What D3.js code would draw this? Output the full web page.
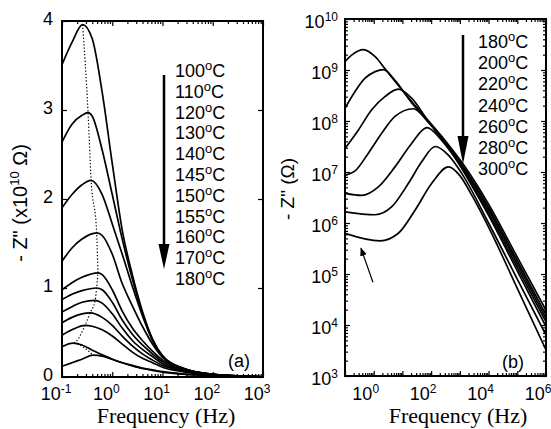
<!DOCTYPE html>
<html>
<head>
<meta charset="utf-8">
<script src="https://cdn.jsdelivr.net/npm/d3@7"></script>
<style>
  body { margin: 0; background: #fff; }
  text { font-family: "Liberation Sans", Arial, sans-serif; fill: #000; }
</style>
</head>
<body>
<svg id="chart" width="551" height="429"></svg>
<script>
// panel (a): -Z'' (x1e10 ohm) vs frequency (Hz), one list of [f, value] per temperature
const tempsA = ["100", "110", "120", "130", "140", "145", "150", "155", "160", "170", "180"];
const curvesA = [
    [[0.1, 3.51], [0.158, 3.76], [0.257, 3.96], [0.4, 3.80], [0.63, 3.20], [1, 2.40], [1.58, 1.65], [2.51, 1.15], [3.98, 0.74], [6.31, 0.43], [10, 0.24], [25, 0.10], [100, 0.03], [1000, 0.003]],
    [[0.1, 2.64], [0.158, 2.84], [0.25, 2.94], [0.33, 2.97], [0.4, 2.93], [0.63, 2.55], [1, 2.05], [1.58, 1.55], [2.51, 1.10], [3.98, 0.72], [6.31, 0.42], [10, 0.235], [25, 0.10], [100, 0.03], [1000, 0.003]],
    [[0.1, 1.90], [0.158, 2.05], [0.25, 2.16], [0.38, 2.21], [0.63, 2.05], [1, 1.72], [1.58, 1.38], [2.51, 1.02], [3.98, 0.69], [6.31, 0.41], [10, 0.23], [25, 0.10], [100, 0.03], [1000, 0.003]],
    [[0.1, 1.30], [0.158, 1.45], [0.25, 1.55], [0.49, 1.62], [0.63, 1.59], [1, 1.38], [1.58, 1.05], [2.51, 0.80], [3.98, 0.57], [6.31, 0.37], [10, 0.22], [25, 0.095], [100, 0.03], [1000, 0.003]],
    [[0.1, 0.98], [0.158, 1.06], [0.25, 1.12], [0.525, 1.17], [0.63, 1.15], [1, 0.98], [1.58, 0.74], [2.51, 0.55], [3.98, 0.41], [6.31, 0.29], [10, 0.19], [25, 0.09], [100, 0.03], [1000, 0.003]],
    [[0.1, 0.87], [0.158, 0.93], [0.25, 0.97], [0.49, 1.00], [0.63, 0.98], [1, 0.84], [1.58, 0.64], [2.51, 0.48], [3.98, 0.36], [6.31, 0.26], [10, 0.17], [25, 0.085], [100, 0.028], [1000, 0.003]],
    [[0.1, 0.73], [0.158, 0.79], [0.25, 0.84], [0.457, 0.86], [0.63, 0.83], [1, 0.71], [1.58, 0.55], [2.51, 0.41], [3.98, 0.31], [6.31, 0.23], [10, 0.15], [25, 0.08], [100, 0.027], [1000, 0.003]],
    [[0.1, 0.61], [0.158, 0.67], [0.25, 0.71], [0.363, 0.72], [0.63, 0.67], [1, 0.58], [1.58, 0.46], [2.51, 0.35], [3.98, 0.26], [6.31, 0.19], [10, 0.13], [25, 0.07], [100, 0.025], [1000, 0.003]],
    [[0.1, 0.47], [0.158, 0.53], [0.288, 0.58], [0.4, 0.57], [0.63, 0.53], [1, 0.46], [1.58, 0.37], [2.51, 0.28], [3.98, 0.21], [6.31, 0.16], [10, 0.11], [25, 0.06], [100, 0.022], [1000, 0.003]],
    [[0.1, 0.34], [0.166, 0.38], [0.25, 0.36], [0.4, 0.30], [0.63, 0.25], [1, 0.20], [1.58, 0.16], [2.51, 0.13], [3.98, 0.10], [6.31, 0.08], [10, 0.06], [25, 0.035], [100, 0.015], [1000, 0.002]],
    [[0.1, 0.12], [0.158, 0.16], [0.25, 0.20], [0.417, 0.245], [0.63, 0.235], [1, 0.20], [1.58, 0.16], [2.51, 0.125], [3.98, 0.095], [6.31, 0.075], [10, 0.055], [25, 0.033], [100, 0.014], [1000, 0.002]]
];
const yTicksA = [0, 1, 2, 3, 4];
const xExpA = [-1, 0, 1, 2, 3];

// panel (b): -Z'' (ohm) vs frequency (Hz), log-log
const tempsB = ["180", "200", "220", "240", "260", "280", "300"];
const curvesB = [
    [[0.1, 1.45e9], [0.17, 1.95e9], [0.44, 2.51e9], [1.12, 1.82e9], [2.45, 1.07e9], [5.5, 6.0e8], [20.9, 2.4e8], [79, 1.02e8], [316, 4.07e7], [1175, 1.55e7], [1e4, 2.34e6], [1e5, 2.14e5], [1e6, 1.95e4]],
    [[0.1, 1.78e8], [0.224, 3.8e8], [0.5, 6.9e8], [1.12, 9.3e8], [2.19, 1.02e9], [5.5, 6.3e8], [20.9, 2.29e8], [79, 9.8e7], [316, 3.9e7], [1175, 1.41e7], [1e4, 2.04e6], [1e5, 1.82e5], [1e6, 1.58e4]],
    [[0.1, 2.9e7], [0.29, 6.6e7], [0.85, 1.66e8], [2.45, 3.0e8], [7.2, 4.2e8], [20.9, 2.8e8], [79, 1.0e8], [316, 3.7e7], [1175, 1.32e7], [1e4, 1.82e6], [1e5, 1.58e5], [1e6, 1.35e4]],
    [[0.1, 8.7e6], [0.224, 1.05e7], [0.65, 2.34e7], [1.9, 5.75e7], [5.5, 1.23e8], [24, 1.74e8], [79, 9.5e7], [316, 3.55e7], [1175, 1.2e7], [1e4, 1.58e6], [1e5, 1.35e5], [1e6, 1.15e4]],
    [[0.1, 3.8e6], [0.38, 3.47e6], [1.45, 5.1e6], [5.5, 1.26e7], [20.9, 3.63e7], [71, 7.4e7], [234, 4.17e7], [676, 1.9e7], [3162, 4.47e6], [1e4, 1.41e6], [1e5, 1.15e5], [1e6, 9.3e3]],
    [[0.1, 1.66e6], [1.12, 1.45e6], [4.27, 2.09e6], [16.2, 6.0e6], [46.8, 1.58e7], [138, 3.16e7], [398, 2.14e7], [1175, 9.3e6], [1e4, 1.0e6], [1e5, 7.9e4], [1e6, 6.3e3]],
    [[0.1, 6.3e5], [1.66, 4.47e5], [7.2, 6.3e5], [27.5, 1.78e6], [105, 6.0e6], [398, 1.26e7], [1000, 8.5e6], [2570, 3.55e6], [1e4, 8.3e5], [1e5, 5.25e4], [1e6, 3.24e3]]
];
const yExpB = [3, 4, 5, 6, 7, 8, 9, 10];
const xExpB = [0, 2, 4, 6];
// the little arrow pointing at the low-frequency bump of the 300 C curve
const noteFromB = [0.94, 6.9e4];
const noteToB = [0.36, 3.2e5];

const serif = "'Liberation Serif', 'Times New Roman', serif";
const svg = d3.select("#chart");
svg.append("rect").attr("width", 551).attr("height", 429).attr("fill", "#fff");

const xA = d3.scaleLog().domain([0.1, 1000]).range([62, 263]);
const yA = d3.scaleLinear().domain([0, 4]).range([377, 21]);
const xB = d3.scaleLog().domain([0.1, 1e6]).range([345, 546]);
const yB = d3.scaleLog().domain([1e3, 1e10]).range([376, 19]);

const decades = (lo, hi) => d3.range(lo, hi + 1).map(e => Math.pow(10, e));
const minors = (lo, hi) => {
    const out = [];
    for (let e = lo; e < hi; e++) for (let m = 2; m <= 9; m++) out.push(m * Math.pow(10, e));
    return out;
};

// inward ticks on all four sides of a box
const ticks = (axisFn, scale, values, size, tx, ty) => {
    svg.append("g")
        .attr("transform", `translate(${tx},${ty})`)
        .call(axisFn(scale).tickValues(values).tickSize(-size).tickFormat(""))
        .call(g => g.select(".domain").remove())
        .selectAll("line")
        .attr("stroke", "#000")
        .attr("stroke-width", 1.2);
};

const frame = (x, y) => {
    const [x0, x1] = x.range();
    const [y0, y1] = y.range();
    svg.append("rect")
        .attr("x", x0).attr("y", y1)
        .attr("width", x1 - x0).attr("height", y0 - y1)
        .attr("fill", "none").attr("stroke", "#000").attr("stroke-width", 2);
};

const clip = (id, x, y) => {
    const [x0, x1] = x.range();
    const [y0, y1] = y.range();
    svg.append("clipPath").attr("id", id)
        .append("rect").attr("x", x0).attr("y", y1).attr("width", x1 - x0).attr("height", y0 - y1);
};

const powLabel = (sel, e) => {
    sel.append("tspan").text("10");
    sel.append("tspan").attr("dy", -7).style("font-size", "12px").text(e);
};

const degLabel = (sel, t) => {
    sel.append("tspan").text(t);
    sel.append("tspan").attr("dy", -7).style("font-size", "13px").text("o");
    sel.append("tspan").attr("dy", 7).text("C");
};

// ---- panel (a) ----
clip("clipA", xA, yA);
ticks(d3.axisBottom, xA, decades(-1, 3), 5, 0, 377);
ticks(d3.axisBottom, xA, minors(-1, 3), 3, 0, 377);
ticks(d3.axisTop, xA, decades(-1, 3), 5, 0, 21);
ticks(d3.axisTop, xA, minors(-1, 3), 3, 0, 21);
ticks(d3.axisLeft, yA, yTicksA, 5, 62, 0);
ticks(d3.axisRight, yA, yTicksA, 5, 263, 0);

const lineA = d3.line().x(d => xA(d[0])).y(d => yA(d[1])).curve(d3.curveMonotoneX);
const plotA = svg.append("g").attr("clip-path", "url(#clipA)");

plotA.append("path")
    .attr("d", lineA(curvesA.map(c => d3.greatest(c, d => d[1]))))
    .attr("fill", "none").attr("stroke", "#000")
    .attr("stroke-width", 1.2).attr("stroke-dasharray", "1.3 2");

plotA.selectAll("path.curve")
    .data(curvesA)
    .enter()
    .append("path")
    .attr("class", "curve")
    .attr("d", lineA)
    .attr("fill", "none").attr("stroke", "#000").attr("stroke-width", 1.7);

frame(xA, yA);

svg.selectAll("text.ya")
    .data(yTicksA)
    .enter()
    .append("text")
    .attr("class", "ya")
    .attr("x", 53).attr("y", d => yA(d) + 4)
    .attr("text-anchor", "end").style("font-size", "18px")
    .text(d => d);

svg.selectAll("text.xa")
    .data(xExpA)
    .enter()
    .append("text")
    .attr("class", "xa")
    .attr("x", d => xA(Math.pow(10, d)) - 6).attr("y", 400)
    .attr("text-anchor", "middle").style("font-size", "18px")
    .each(function (d) { powLabel(d3.select(this), d); });

svg.append("text")
    .attr("x", 166).attr("y", 423)
    .attr("text-anchor", "middle")
    .style("font-family", serif).style("font-size", "22px")
    .text("Frequency (Hz)");

const ylabA = svg.append("text")
    .attr("transform", "translate(27,203) rotate(-90)")
    .attr("text-anchor", "middle").style("font-size", "20px");
ylabA.append("tspan").text("- Z\" (x10");
ylabA.append("tspan").attr("dy", -8).style("font-size", "13px").text("10");
ylabA.append("tspan").attr("dy", 8).text(" Ω)");

const legA = svg.append("g");
tempsA.forEach((t, i) => {
    legA.append("text")
        .attr("x", 175).attr("y", 77 + i * 20.8)
        .style("font-size", "18px")
        .call(degLabel, t);
});
legA.append("line")
    .attr("x1", 164).attr("x2", 164).attr("y1", 75).attr("y2", 250)
    .attr("stroke", "#000").attr("stroke-width", 2.5);
legA.append("path")
    .attr("d", "M158.5,244 L169.5,244 L164,269 Z")
    .attr("fill", "#000");

svg.append("text")
    .attr("x", 228).attr("y", 367)
    .style("font-size", "18px")
    .text("(a)");

// ---- panel (b) ----
clip("clipB", xB, yB);
ticks(d3.axisBottom, xB, decades(-1, 6), 5, 0, 376);
ticks(d3.axisBottom, xB, minors(-1, 6), 3, 0, 376);
ticks(d3.axisTop, xB, decades(-1, 6), 5, 0, 19);
ticks(d3.axisTop, xB, minors(-1, 6), 3, 0, 19);
ticks(d3.axisLeft, yB, decades(3, 10), 5, 345, 0);
ticks(d3.axisLeft, yB, minors(3, 10), 3, 345, 0);
ticks(d3.axisRight, yB, decades(3, 10), 5, 546, 0);
ticks(d3.axisRight, yB, minors(3, 10), 3, 546, 0);

const lineB = d3.line().x(d => xB(d[0])).y(d => yB(d[1])).curve(d3.curveMonotoneX);
svg.append("g").attr("clip-path", "url(#clipB)")
    .selectAll("path")
    .data(curvesB)
    .enter()
    .append("path")
    .attr("d", lineB)
    .attr("fill", "none").attr("stroke", "#000").attr("stroke-width", 1.7);

frame(xB, yB);

svg.selectAll("text.yb")
    .data(yExpB)
    .enter()
    .append("text")
    .attr("class", "yb")
    .attr("x", 338).attr("y", d => yB(Math.pow(10, d)) + 9)
    .attr("text-anchor", "end").style("font-size", "18px")
    .each(function (d) { powLabel(d3.select(this), d); });

svg.selectAll("text.xb")
    .data(xExpB)
    .enter()
    .append("text")
    .attr("class", "xb")
    .attr("x", d => xB(Math.pow(10, d)) - 8).attr("y", 400)
    .attr("text-anchor", "middle").style("font-size", "18px")
    .each(function (d) { powLabel(d3.select(this), d); });

svg.append("text")
    .attr("x", 458).attr("y", 423)
    .attr("text-anchor", "middle")
    .style("font-family", serif).style("font-size", "22px")
    .text("Frequency (Hz)");

svg.append("text")
    .attr("transform", "translate(294,189) rotate(-90)")
    .attr("text-anchor", "middle").style("font-size", "19px")
    .text("- Z\" (Ω)");

const legB = svg.append("g");
tempsB.forEach((t, i) => {
    legB.append("text")
        .attr("x", 478).attr("y", 48 + i * 21.2)
        .style("font-size", "18px")
        .call(degLabel, t);
});
legB.append("line")
    .attr("x1", 463).attr("x2", 463).attr("y1", 35).attr("y2", 140)
    .attr("stroke", "#000").attr("stroke-width", 2.5);
legB.append("path")
    .attr("d", "M457.5,136 L468.5,136 L463,164 Z")
    .attr("fill", "#000");

svg.append("defs").append("marker")
    .attr("id", "head")
    .attr("viewBox", "0 0 10 10").attr("refX", 9).attr("refY", 5)
    .attr("markerWidth", 7).attr("markerHeight", 7)
    .attr("orient", "auto")
    .append("path").attr("d", "M0,1 L10,5 L0,9 Z").attr("fill", "#000");

svg.append("line")
    .attr("x1", xB(noteFromB[0])).attr("y1", yB(noteFromB[1]))
    .attr("x2", xB(noteToB[0])).attr("y2", yB(noteToB[1]))
    .attr("stroke", "#000").attr("stroke-width", 1.2)
    .attr("marker-end", "url(#head)");

svg.append("text")
    .attr("x", 502).attr("y", 368)
    .style("font-size", "18px")
    .text("(b)");
</script>
</body>
</html>
